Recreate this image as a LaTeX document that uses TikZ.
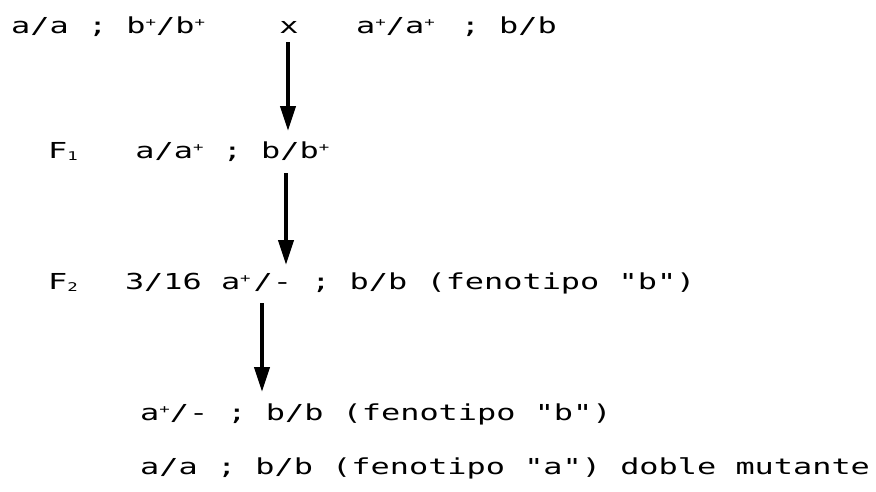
\documentclass[tikz,border=0pt]{standalone}
\usepackage{fontspec}
\usetikzlibrary{arrows.meta,calc}
\newfontfamily\dm[FakeStretch=1.45]{DejaVu Sans Mono}
\newcommand\sps{\raisebox{7pt}{\fontsize{12}{12}\selectfont +}}
\newcommand\sbs[1]{\raisebox{-2pt}{\fontsize{12}{12}\selectfont #1}}
\newcommand\sbf[1]{\makebox[19.2pt][l]{\sbs{#1}}}
\tikzset{
  txt/.style={anchor=base west, inner sep=0pt, font=\dm\fontsize{22}{22}\selectfont},
  arr/.style={line width=4pt, -{Triangle[length=25pt,width=15pt]}}
}
\begin{document}
\begin{tikzpicture}[x=1pt,y=-1pt]
\useasboundingbox[fill=white] (0,0) rectangle (876,491);
% line 1
\node[txt] (l1a) at (11,33) {a/a ; b\sps/b\sps};
\node[txt,anchor=base] (cross) at (289,33) {x};
\node[txt] (l1b) at (356,33) {a\sps/a\sps\hspace{26pt}; b/b};
% line 2
\node[txt] (f1) at (48,158) {F\sbs{1}~~~a/a\sps{} ; b/b\sps};
% line 3
\node[txt] (f2) at (48,289) {F\sbf{2}~~3/16 a\sps\hspace{3pt}/- ; b/b (fenotipo "b")};
% line 4, 5
\node[txt] (l4) at (140,420) {a\sps/- ; b/b (fenotipo "b")};
\node[txt] (l5) at (140,474) {a/a ; b/b (fenotipo "a") doble mutante};
% arrows
\coordinate (a1s) at (288,42);
\coordinate (a1e) at (288,131);
\coordinate (a2s) at (286,173);
\coordinate (a2e) at (286,265);
\coordinate (a3s) at (262,303);
\coordinate (a3e) at (262,392);
\draw[arr] (a1s) -- (a1e);
\draw[arr] (a2s) -- (a2e);
\draw[arr] (a3s) -- (a3e);
\end{tikzpicture}
\end{document}
